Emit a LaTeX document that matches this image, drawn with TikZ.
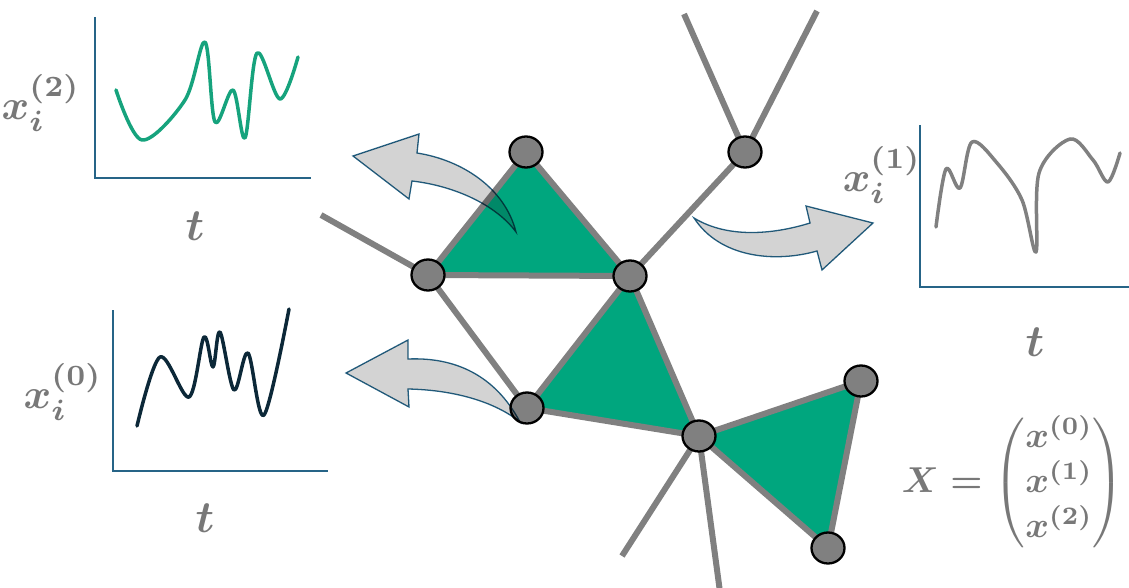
\documentclass[tikz,border=0pt]{standalone}
\usepackage{amsmath}
\usetikzlibrary{shapes.geometric}
\definecolor{simplex}{RGB}{0,166,126}
\definecolor{edgegray}{RGB}{128,128,128}
\definecolor{axisblue}{RGB}{38,100,135}
\definecolor{arrowfill}{RGB}{211,211,211}
\definecolor{labelgray}{RGB}{120,120,120}
\definecolor{sigzero}{RGB}{12,40,56}
\definecolor{sigone}{RGB}{128,128,128}
\definecolor{sigtwo}{RGB}{22,163,125}
\pgfdeclarelayer{bg}
\pgfsetlayers{bg,main}
\tikzset{
  vertex/.style={ellipse, draw=black, line width=2.3pt, fill=edgegray,
    minimum width=33pt, minimum height=31pt, inner sep=0pt},
  link/.style={draw=edgegray, line width=6pt},
  face/.style={fill=simplex},
  axes/.style={draw=axisblue, line width=2pt},
  signal/.style={line width=3.5pt, smooth, tension=0.55, line join=round, line cap=round},
  flow/.style={fill=arrowfill, draw=axisblue, line width=1.3pt, line join=miter},
  axislabel/.style={text=labelgray, inner sep=0pt, scale=4.2, font=\boldmath},
  tlabel/.style={text=labelgray, inner sep=0pt, scale=4.5, font=\boldmath},
}
\begin{document}
\begin{tikzpicture}[x=1pt,y=-1pt]
\useasboundingbox (0,0) rectangle (1129,588);

% vertices of the complex
\node[vertex] (n1) at (526,152) {};
\node[vertex] (n2) at (428,275) {};
\node[vertex] (n3) at (630,276) {};
\node[vertex] (n4) at (745,152) {};
\node[vertex] (n5) at (527,408) {};
\node[vertex] (n6) at (699,436) {};
\node[vertex] (n7) at (861,381) {};
\node[vertex] (n8) at (828,548) {};

% loose edge ends leaving the picture
\coordinate (e1) at (321,215);
\coordinate (e2) at (684,14);
\coordinate (e3) at (817,11);
\coordinate (e4) at (622,556);
\coordinate (e5) at (720,592);

\begin{pgfonlayer}{bg}
  % filled 2-simplices
  \fill[face] (n1.center) -- (n2.center) -- (n3.center) -- cycle;
  \fill[face] (n3.center) -- (n5.center) -- (n6.center) -- cycle;
  \fill[face] (n6.center) -- (n7.center) -- (n8.center) -- cycle;
  % edges
  \draw[link] (n1.center) -- (n2.center);
  \draw[link] (n1.center) -- (n3.center);
  \draw[link] (n2.center) -- (n3.center);
  \draw[link] (n2.center) -- (e1);
  \draw[link] (n2.center) -- (n5.center);
  \draw[link] (n3.center) -- (n5.center);
  \draw[link] (n3.center) -- (n6.center);
  \draw[link] (n5.center) -- (n6.center);
  \draw[link] (n3.center) -- (n4.center);
  \draw[link] (n4.center) -- (e2);
  \draw[link] (n4.center) -- (e3);
  \draw[link] (n6.center) -- (n7.center);
  \draw[link] (n6.center) -- (n8.center);
  \draw[link] (n7.center) -- (n8.center);
  \draw[link] (n6.center) -- (e4);
  \draw[link] (n6.center) -- (e5);
\end{pgfonlayer}

% curved block arrows
\begin{scope}[blend mode=multiply]
  \path[flow] (516,232) .. controls (505,188) and (462,160) .. (417,153)
    -- (419,134) -- (353,156) -- (409,199) -- (412,181)
    .. controls (455,186) and (496,205) .. (516,232) -- cycle;
  \path[flow] (694,218) .. controls (730,240) and (778,233) .. (810,223)
    -- (806,206) -- (873,223) -- (822,270) -- (817,251)
    .. controls (775,263) and (720,258) .. (694,218) -- cycle;
  \path[flow] (520,422) .. controls (495,375) and (455,357) .. (408,359)
    -- (408,340) -- (346,373) -- (409,407) -- (408,389)
    .. controls (455,390) and (495,402) .. (520,422) -- cycle;
\end{scope}

% signal x^(2)
\draw[axes] (95,17) -- (95,178) -- (311,178);
\draw[signal, sigtwo] plot coordinates {(116,90) (142,140) (185,100) (205,42) (215,122) (233,90) (245,138) (257,53) (280,99) (298,57)};
\node[axislabel] (l2) at (41,103) {$x_i^{(2)}$};
\node[tlabel] (t2) at (195,226) {$t$};

% signal x^(0)
\draw[axes] (113,310) -- (113,471) -- (328,471);
\draw[signal, sigzero] plot coordinates {(137,426) (160,357) (189,397) (204,337) (213,367) (220,332) (234,390) (248,353) (264,415) (289,309)};
\node[axislabel] (l0) at (63,392) {$x_i^{(0)}$};
\node[tlabel] (t0) at (205,518) {$t$};

% signal x^(1)
\draw[axes] (920,125) -- (920,287) -- (1129,287);
\draw[signal, sigone] plot coordinates {(936,227) (946,169) (960,188) (972,142) (997,163) (1022,200) (1036,252) (1039,173) (1070,139) (1093,160) (1108,182) (1120,153)};
\node[axislabel] (l1) at (882,175) {$x_i^{(1)}$};
\node[tlabel] (t1) at (1035,342) {$t$};

% feature matrix
\node[text=labelgray, inner sep=0pt, scale=3.6, font=\boldmath, anchor=east] (mat) at (1125,483)
  {$X=\begin{pmatrix} x^{(0)}\\ x^{(1)}\\ x^{(2)} \end{pmatrix}$};
\end{tikzpicture}
\end{document}
